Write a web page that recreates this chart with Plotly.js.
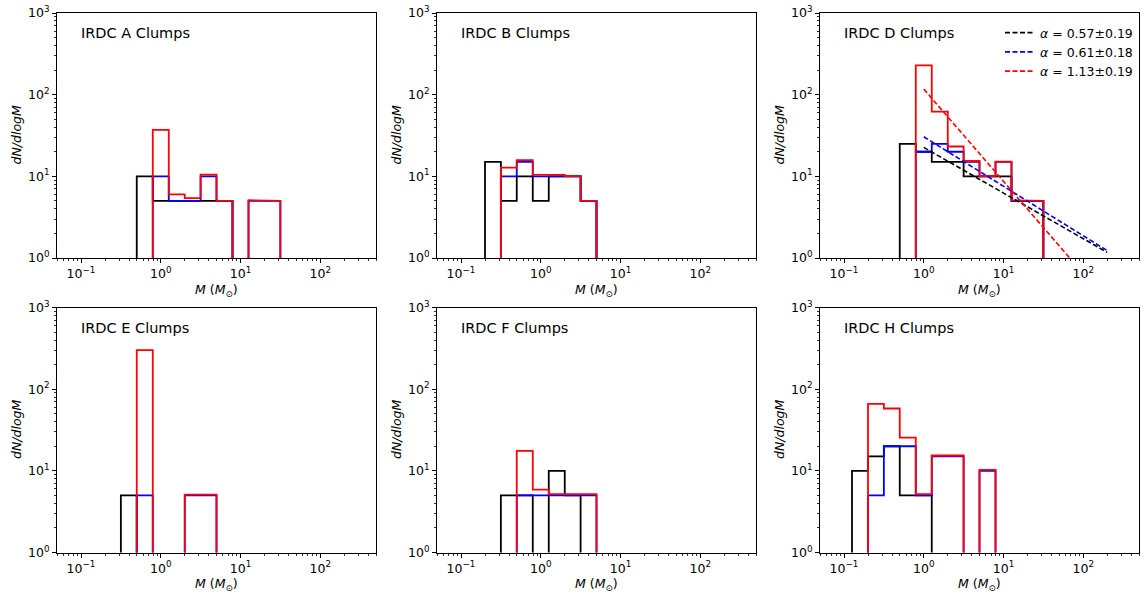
<!DOCTYPE html>
<html><head><meta charset="utf-8">
<script src="https://cdn.plot.ly/plotly-3.0.1.min.js"></script>
<style>html,body{margin:0;padding:0;background:#fff}#chart{width:1147px;height:598px}</style>
</head><body><div id="chart"></div>
<script>
// Histogram bin edges (0.2 dex log bins), in solar masses
const binEdges = [0.126, 0.2, 0.316, 0.5, 0.794, 1.26, 2.0, 3.16, 5.0, 7.94, 12.6, 20.0, 31.6];

const panelTitles = ['IRDC A Clumps', 'IRDC B Clumps', 'IRDC D Clumps', 'IRDC E Clumps', 'IRDC F Clumps', 'IRDC H Clumps'];

// dN/dlogM per bin (0 = empty bin)
const A_black = [0, 0, 0, 10, 5, 5, 5, 5, 5, 0, 0, 0];
const A_blue  = [0, 0, 0, 0, 10, 5, 5, 10, 5, 0, 5, 5];
const A_red   = [0, 0, 0, 0, 37, 6, 5.4, 10.5, 5, 0, 5.1, 5];

const B_black = [0, 15, 5, 10, 5, 10, 10, 5, 0, 0, 0, 0];
const B_blue  = [0, 0, 10, 15, 10, 10, 10, 5, 0, 0, 0, 0];
const B_red   = [0, 0, 12.8, 15.8, 10.5, 10.4, 10.1, 5, 0, 0, 0, 0];

const D_black = [0, 0, 0, 25, 20, 15, 15, 10, 10, 10, 5, 5];
const D_blue  = [0, 0, 0, 0, 20, 25, 20, 15, 10, 15, 5, 5];
const D_red   = [0, 0, 0, 0, 228, 62, 23.2, 15.4, 10.1, 15.1, 5.1, 5];

const E_black = [0, 0, 5, 0, 0, 0, 0, 0, 0, 0, 0, 0];
const E_blue  = [0, 0, 0, 5, 0, 0, 5, 5, 0, 0, 0, 0];
const E_red   = [0, 0, 0, 300, 0, 0, 5.1, 5.1, 0, 0, 0, 0];

const F_black = [0, 0, 5, 5, 0, 10, 5, 0, 0, 0, 0, 0];
const F_blue  = [0, 0, 0, 5, 5, 5, 5, 5, 0, 0, 0, 0];
const F_red   = [0, 0, 0, 17.6, 5.9, 5.2, 5.2, 5.2, 0, 0, 0, 0];

const H_black = [10, 15, 20, 5, 5, 0, 0, 0, 0, 0, 0, 0];
const H_blue  = [0, 5, 20, 20, 5, 15, 15, 0, 10, 0, 0, 0];
const H_red   = [0, 66, 58, 25.5, 5.2, 15.4, 15.4, 0, 10.3, 0, 0, 0];

// Power-law fits in IRDC D (end points)
const fitX = [1, 200];
const fitBlackY = [22.6, 1.17];
const fitBlueY  = [30.5, 1.23];
const fitRedY   = [117, 0.294];
const fitLabels = ['<i>α</i> = 0.57±0.19', '<i>α</i> = 0.61±0.18', '<i>α</i> = 1.13±0.19'];

const panels = [
  {black: A_black, blue: A_blue, red: A_red},
  {black: B_black, blue: B_blue, red: B_red},
  {black: D_black, blue: D_blue, red: D_red},
  {black: E_black, blue: E_blue, red: E_red},
  {black: F_black, blue: F_blue, red: F_red},
  {black: H_black, blue: H_blue, red: H_red}
];

const W = 1147, H = 598;
const FLOOR = 0.3; // below axis range: empty bins drop to the axis
function stepPath(edges, vals) {
  const xs = [edges[0]], ys = [FLOOR];
  for (let i = 0; i < vals.length; i++) {
    const v = vals[i] > 0 ? vals[i] : FLOOR;
    xs.push(edges[i], edges[i + 1]);
    ys.push(v, v);
  }
  xs.push(edges[edges.length - 1]); ys.push(FLOOR);
  return {x: xs, y: ys};
}

const colors = {black: '#000000', blue: '#0000ff', red: '#ff0000'};
const traces = [];
panels.forEach((p, k) => {
  const ax = k === 0 ? '' : String(k + 1);
  ['black', 'blue', 'red'].forEach(c => {
    const s = stepPath(binEdges, p[c]);
    traces.push({type: 'scatter', mode: 'lines', x: s.x, y: s.y,
      xaxis: 'x' + ax, yaxis: 'y' + ax, showlegend: false, hoverinfo: 'skip',
      line: {color: colors[c], width: 1.8}});
  });
});
[[fitBlackY, '#000000'], [fitBlueY, '#0000ff'], [fitRedY, '#ff0000']].forEach((f, i) => {
  traces.push({type: 'scatter', mode: 'lines', x: fitX, y: f[0], xaxis: 'x3', yaxis: 'y3',
    name: fitLabels[i], showlegend: true, hoverinfo: 'skip',
    line: {color: f[1], width: 1.6, dash: '5px,2.5px'}});
});

// panel pixel geometry
const colLeft = [57, 437, 820];
const panelW = 319;
const rowTop = [13, 307.5];
const panelH = 245;

const minorX = [], minorY = [];
for (let e = -2; e <= 3; e++) for (let m = 2; m <= 9; m++) { minorX.push(m * Math.pow(10, e)); minorY.push(m * Math.pow(10, e)); }

const font = {family: 'DejaVu Sans, sans-serif', color: '#000'};
const layout = {
  width: W, height: H, margin: {l: 0, r: 0, t: 0, b: 0},
  paper_bgcolor: '#fff', plot_bgcolor: '#fff',
  font: Object.assign({size: 12}, font),
  showlegend: true,
  legend: {x: 1000 / W, y: 1 - 18 / H, xanchor: 'left', yanchor: 'top', bgcolor: 'rgba(0,0,0,0)',
    font: Object.assign({size: 12.5}, font), tracegroupgap: 0, itemwidth: 30},
  annotations: []
};
for (let k = 0; k < 6; k++) {
  const r = Math.floor(k / 3), c = k % 3;
  const ax = k === 0 ? '' : String(k + 1);
  const x0 = colLeft[c], y0 = rowTop[r];
  layout['xaxis' + ax] = {
    type: 'log', range: [Math.log10(0.05), Math.log10(500)],
    domain: [x0 / W, (x0 + panelW) / W], anchor: 'y' + ax,
    showline: true, mirror: true, linecolor: '#000', linewidth: 1,
    showgrid: false, zeroline: false, ticks: 'outside', ticklen: 4, tickwidth: 1, tickcolor: '#000',
    tickmode: 'array', tickvals: [0.1, 1, 10, 100],
    ticktext: ['10<sup>−1</sup>', '10<sup>0</sup>', '10<sup>1</sup>', '10<sup>2</sup>'],
    tickfont: Object.assign({size: 12.5}, font),
    minor: {ticks: 'outside', ticklen: 2, tickwidth: 0.8, tickcolor: '#000', tickmode: 'array', tickvals: minorX, showgrid: false},
    fixedrange: true, automargin: false
  };
  layout['yaxis' + ax] = {
    type: 'log', range: [0, 3],
    domain: [1 - (y0 + panelH) / H, 1 - y0 / H], anchor: 'x' + ax,
    showline: true, mirror: true, linecolor: '#000', linewidth: 1,
    showgrid: false, zeroline: false, ticks: 'outside', ticklen: 4, tickwidth: 1, tickcolor: '#000',
    tickmode: 'array', tickvals: [1, 10, 100, 1000],
    ticktext: ['10<sup>0</sup>', '10<sup>1</sup>', '10<sup>2</sup>', '10<sup>3</sup>'],
    tickfont: Object.assign({size: 12.5}, font),
    minor: {ticks: 'outside', ticklen: 2, tickwidth: 0.8, tickcolor: '#000', tickmode: 'array', tickvals: minorY, showgrid: false},
    fixedrange: true, automargin: false
  };
  // panel title
  layout.annotations.push({xref: 'paper', yref: 'paper', x: (x0 + 22) / W, y: 1 - (y0 + 20) / H,
    xanchor: 'left', yanchor: 'middle', showarrow: false, text: panelTitles[k],
    font: Object.assign({size: 14.5}, font)});
  // x title
  layout.annotations.push({xref: 'paper', yref: 'paper', x: (x0 + panelW / 2) / W, y: 1 - (y0 + panelH + 32) / H,
    xanchor: 'center', yanchor: 'middle', showarrow: false, text: '<i>M</i> (<i>M</i><sub>⊙</sub>)',
    font: Object.assign({size: 12.5}, font)});
  // y title
  layout.annotations.push({xref: 'paper', yref: 'paper', x: (x0 - 41) / W, y: 1 - (y0 + panelH / 2) / H,
    xanchor: 'center', yanchor: 'middle', showarrow: false, textangle: -90, text: '<i>dN/dlogM</i>',
    font: Object.assign({size: 12.5}, font)});
}

Plotly.newPlot('chart', traces, layout, {staticPlot: true, displayModeBar: false});
</script>
</body></html>
